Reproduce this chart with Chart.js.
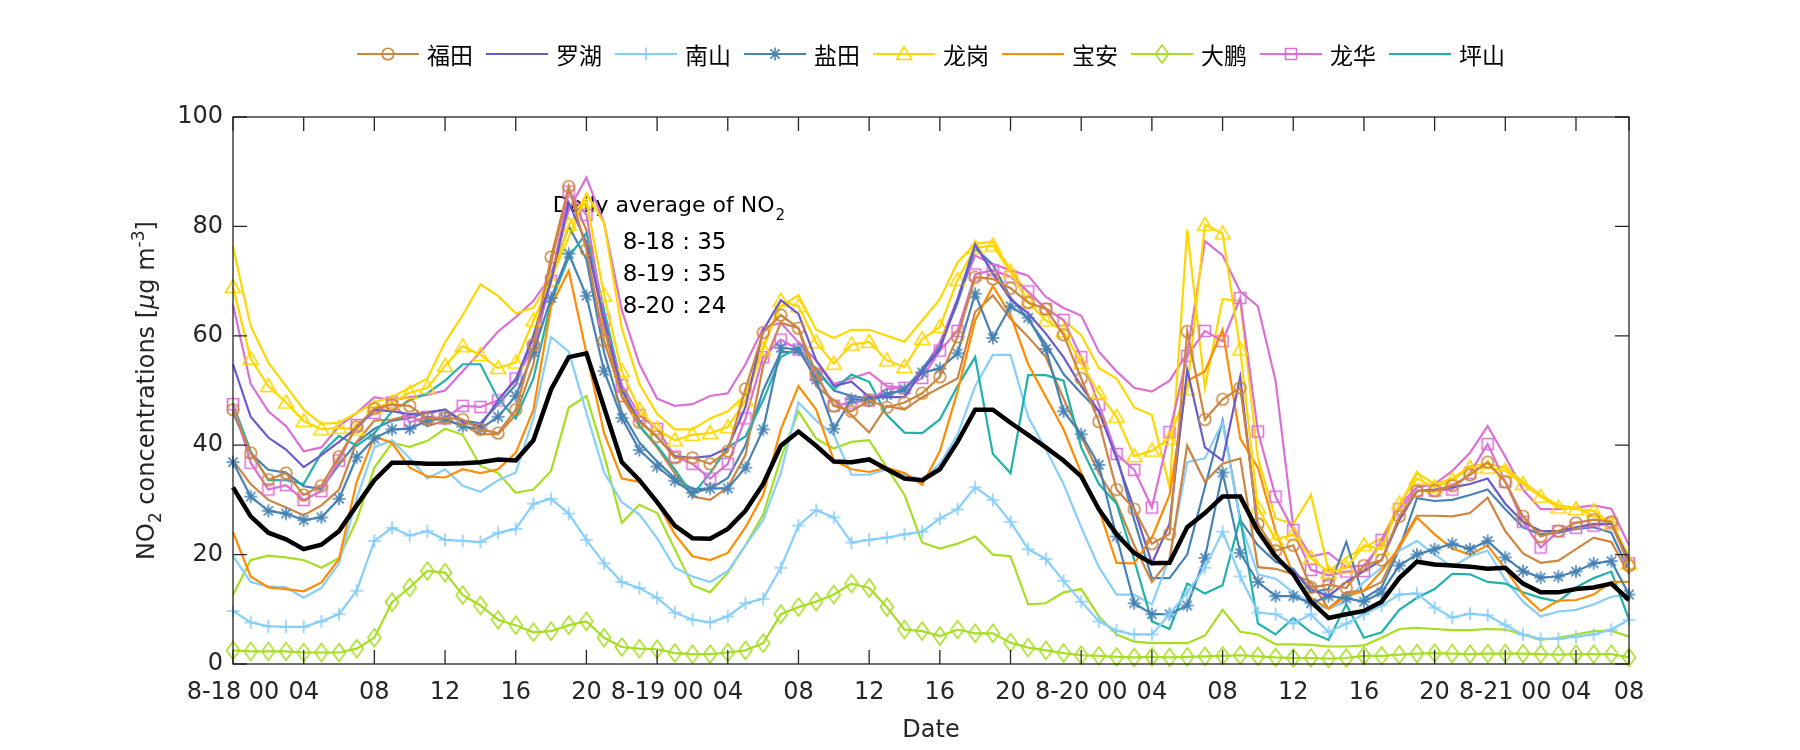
<!DOCTYPE html>
<html>
<head>
<meta charset="utf-8">
<script src="https://cdn.jsdelivr.net/npm/chart.js@4.4.1/dist/chart.umd.min.js"></script>
<style>
  html, body { margin: 0; padding: 0; background: #fff; }
</style>
</head>
<body>
<canvas id="no2Chart" width="1800" height="750"></canvas>
<script>
// hourly index from 8-18 00 (0) to 8-21 07 (79)
const hours = [
  0, 1, 2, 3, 4, 5, 6, 7, 8, 9, 10, 11, 12, 13, 14, 15, 16, 17, 18, 19,
  20, 21, 22, 23, 24, 25, 26, 27, 28, 29, 30, 31, 32, 33, 34, 35, 36, 37, 38, 39,
  40, 41, 42, 43, 44, 45, 46, 47, 48, 49, 50, 51, 52, 53, 54, 55, 56, 57, 58, 59,
  60, 61, 62, 63, 64, 65, 66, 67, 68, 69, 70, 71, 72, 73, 74, 75, 76, 77, 78, 79
];
const tickHours = [0, 4, 8, 12, 16, 20, 24, 28, 32, 36, 40, 44, 48, 52, 56, 60, 64, 68, 72, 76, 79];
const tickText = ['8-18 00', '04', '08', '12', '16', '20', '8-19 00', '04', '08', '12', '16', '20',
                  '8-20 00', '04', '08', '12', '16', '20', '8-21 00', '04', '08'];
const yTicks = [0, 20, 40, 60, 80, 100];

const stationNames = ['福田', '罗湖', '南山', '盐田', '龙岗', '宝安', '大鹏', '龙华', '坪山'];
const stationColors = ['#CD853F', '#6A5ACD', '#87CEFA', '#4682B4', '#FFD700', '#FF8C00', '#A6DE22', '#DA70D6', '#20B2AA'];
const stationMarkers = ['o', null, '+', '*', '^', null, 'd', 's', null];

const dailyDays = ['8-18', '8-19', '8-20'];
const dailyMeans = [35, 35, 24];

// stations with markers / first site of each district
const futian = [46.5, 38.6, 33.7, 34.9, 30.9, 32.6, 37.9, 43.4, 46.7, 47.4, 47.2, 44.9, 45, 44.7, 42.9, 42.2,
  46.5, 58.4, 74.4, 87.3, 75.7, 59.1, 49, 44.2, 41.6, 37.7, 37.7, 36.6, 38.9, 50.3, 60.6, 63.8,
  61.4, 53.1, 47.2, 46.2, 48.2, 46.9, 47.8, 49.5, 52.5, 59.8, 70.7, 70.4, 68.7, 66.1, 64.9, 60.2,
  52.2, 44.3, 31.9, 28.3, 22, 23.8, 60.8, 44.7, 48.4, 50.5, 25.6, 20.7, 21.7, 14, 14.5, 13.9,
  18, 19, 27, 31.6, 31.7, 32.6, 34.6, 36.9, 33.3, 27, 23.3, 24.3, 25.8, 26.4, 26, 18];
const luohu = [54.8, 45.2, 41.4, 39.2, 36, 38.2, 40.6, 43.2, 46.5, 46.2, 45.7, 45.9, 46.5, 44.2, 43.5, 48.2,
  52, 60, 70, 84.3, 77, 63, 50, 44.5, 41.5, 38, 37.7, 38, 39.5, 47, 61, 66.5,
  64, 55.5, 50.8, 51.6, 48.8, 48.8, 48.8, 53.5, 57.5, 66.7, 76.7, 71.4, 66.7, 64.1, 60.4, 56.1,
  50.8, 46.2, 37.6, 28.3, 18.4, 25.6, 53.8, 39.6, 37.2, 52.5, 24.3, 19.7, 17, 13.7, 12.4, 15,
  17, 19, 26.3, 31.6, 31.9, 32.3, 32.9, 33.9, 29.3, 26, 24.3, 24.3, 25, 25.6, 25.6, 19];
const nanshan = [9.7, 7.6, 6.9, 6.8, 6.8, 7.8, 9.1, 13.4, 22.5, 24.9, 23.5, 24.3, 22.7, 22.5, 22.3, 24,
  24.7, 29.3, 30.2, 27.5, 22.7, 18.4, 15, 13.9, 12.1, 9.4, 8.1, 7.6, 8.7, 11.1, 11.9, 17.6,
  25.3, 28.1, 26.8, 22.2, 22.7, 23.1, 23.7, 24.2, 26.6, 28.3, 32.3, 30, 26, 21, 19.2, 15.2,
  11.4, 7.8, 6.1, 5.4, 5.4, 9.1, 13.1, 17.6, 24.2, 16, 9.4, 9.1, 7.4, 9.1, 5.8, 7.4,
  9.1, 10.7, 12.7, 12.9, 10.3, 8.5, 9.2, 8.9, 7.1, 5.4, 4.6, 4.6, 5, 5.4, 6.3, 8.1];
const yantian = [36.9, 30.6, 28, 27.5, 26.3, 26.8, 30.2, 37.8, 41.2, 42.9, 43, 44.5, 44.9, 43.4, 43, 45.2,
  49, 57, 66.9, 75, 67.3, 53.6, 45, 39.1, 36.1, 33.5, 31.3, 32.1, 32.1, 35.9, 42.9, 57.8,
  57.5, 52, 43, 48.4, 48.2, 49.2, 50.2, 53.3, 54, 56.8, 67.7, 59.6, 65.4, 63.3, 57.6, 46.2,
  42, 36.4, 23.3, 11.1, 9.1, 9.1, 10.7, 19.4, 35, 20.3, 15, 12.4, 12.4, 11.1, 12.4, 12,
  11.4, 13.1, 18, 20, 21, 22, 21, 22.5, 19.5, 17, 15.8, 16, 16.9, 18.4, 18.8, 12.7];
const longgang = [68.9, 55.8, 50.8, 47.8, 44.4, 42.9, 43.2, 42.9, 46.9, 47.8, 49.6, 50.5, 54.5, 58.1, 56.5, 54.1,
  55.1, 62.8, 70, 80.3, 84.6, 67.4, 53.5, 46.5, 42.9, 40.9, 41.9, 42.2, 43.3, 48.2, 57.5, 66.4,
  65.4, 58.8, 54.9, 58.4, 58.9, 55.5, 54.3, 59.4, 61.6, 70.2, 76.1, 76.5, 71.7, 66.1, 62.8, 60.8,
  55, 49.5, 45.2, 38, 39, 41.2, 50.2, 80.3, 78.7, 57.5, 28.6, 22.7, 23.7, 19.4, 16.7, 17.6,
  21.7, 21, 29.3, 33.9, 32.3, 33.6, 35.9, 35.9, 35.3, 32.9, 30.6, 28.6, 28.3, 28, 25.6, 18.4];
const baoan = [24.1, 16, 14, 13.7, 13.3, 14.9, 19.2, 33.3, 41.6, 40.4, 35.9, 34.3, 34.1, 35.6, 34.9, 35.6,
  38.6, 46.5, 65.4, 71.9, 56.8, 42.2, 33.9, 33.3, 29.6, 23.7, 19.7, 19, 20.3, 25, 30.9, 42.9,
  50.8, 46.5, 37.2, 35.6, 35.1, 35.9, 34.9, 32.8, 38.9, 49.8, 62.8, 69.1, 63.8, 54.8, 48.8, 42.9,
  34.9, 28.3, 18.5, 18.4, 23.1, 30.9, 51.8, 53.5, 61.1, 41.2, 35.9, 24.3, 16.4, 12.1, 10.1, 12.4,
  13.4, 17, 21.3, 26.8, 23.7, 21.1, 20, 21.7, 17.4, 12.7, 9.7, 11.6, 11.7, 12.7, 15, 15];
const dapeng = [2.5, 2.3, 2.3, 2.3, 2.1, 2.1, 2.1, 2.8, 4.8, 11.3, 14, 17, 16.7, 12.6, 10.7, 8.1,
  7.1, 5.8, 6, 7.1, 7.8, 4.8, 3.1, 2.8, 2.7, 2, 1.8, 1.8, 2.1, 2.5, 3.8, 9.1,
  10.4, 11.4, 12.7, 14.7, 13.9, 10.4, 6.3, 6, 5.1, 6.3, 5.6, 5.6, 3.9, 3, 2.5, 2,
  1.6, 1.5, 1.3, 1.2, 1.3, 1.2, 1.3, 1.4, 1.5, 1.6, 1.4, 1.2, 1.1, 1.1, 1, 1.1,
  1.5, 1.5, 1.7, 1.9, 2, 1.9, 1.8, 1.9, 1.9, 1.9, 1.8, 1.7, 1.8, 1.8, 1.8, 1.2];
const longhua = [47.5, 36.8, 31.9, 32.7, 30, 31.6, 37.2, 43.7, 45.9, 47.8, 44.2, 45.2, 44.9, 47.2, 47, 48.2,
  52.2, 57.8, 70, 86.4, 82.1, 62.9, 51, 45.5, 43, 37.9, 36.6, 33.9, 36.6, 44.9, 56.1, 59.3,
  57.5, 52.8, 47.2, 47.8, 48.2, 50.3, 50.5, 52.3, 57.3, 60.9, 71.2, 72, 70.8, 68.1, 64.9, 62.9,
  56.1, 47.4, 38.4, 35.5, 28.6, 42.4, 56.3, 60.9, 59, 66.9, 42.5, 30.6, 24.5, 17.2, 16.2, 16.9,
  17, 22.7, 28.3, 31.7, 31.7, 31.9, 34.9, 40.2, 33.3, 26, 21.3, 24.3, 24.9, 25.3, 25.7, 18.4];
const pingshan = [47.5, 38.9, 33.6, 33.6, 32.9, 38.6, 41.7, 39.9, 42.2, 46.2, 48.2, 49.5, 51.8, 54.8, 54.8, 48.5,
  44.9, 52.2, 66.1, 74.4, 78.8, 64.7, 50.8, 43.5, 39.9, 35.6, 30.9, 34.9, 39.6, 41.6, 48.2, 56.1,
  57.8, 53.5, 50.2, 52.9, 51.6, 45.5, 42.3, 42.2, 44.7, 50.8, 56.1, 38.4, 34.9, 52.8, 52.8, 51.8,
  39.6, 32.9, 29.3, 19, 7.8, 6.4, 14.7, 12.9, 14.4, 26.6, 7.4, 5.4, 8.4, 5.8, 4.4, 10.9,
  4.8, 5.8, 9.9, 12.1, 13.7, 16.5, 16.4, 15, 14.7, 13.1, 12.1, 11.4, 14, 15.7, 16.9, 8.1];

// second sites (same district colours, no markers)
const futian2 = [37.2, 32.9, 30, 28.6, 27.2, 29, 31.9, 40.6, 44.5, 44.7, 45.5, 43.5, 44.5, 43.7, 42, 42,
  45.5, 54.8, 73.4, 86.9, 79.3, 61.4, 48.8, 43.5, 39.6, 34.9, 30.6, 30, 32.3, 38.2, 54.5, 62.4,
  61.4, 50.8, 48.2, 45.5, 42.3, 47.2, 46.5, 48.8, 50.5, 52.2, 64.4, 67.4, 63.1, 59.8, 56.1, 48.5,
  41.6, 34.9, 29.6, 21.7, 15, 19, 39.9, 33.3, 36.6, 37.6, 17.7, 17.4, 16.4, 15, 10.1, 13.1,
  13.4, 15, 21.7, 27.1, 27.1, 27, 27.6, 30.4, 24.3, 20.2, 18.5, 18.9, 21, 23.1, 22.3, 16.4];
const nanshan2 = [19.7, 15, 14.2, 14, 12.1, 13.9, 18.4, 30.3, 39.6, 40.9, 37.6, 33.9, 35.6, 32.6, 31.5, 33.6,
  35, 44.9, 59.8, 57.1, 45.9, 35, 29.6, 27.3, 23, 17.6, 16, 15, 17, 21.7, 26.3, 34.9,
  47.8, 44.5, 41.9, 34.6, 34.6, 35.6, 34.6, 33.7, 36.6, 41.9, 50.8, 56.5, 56.5, 45.2, 39.2, 32.9,
  25, 17.7, 12.7, 12.7, 10.9, 19.4, 36.9, 37.6, 44.2, 26, 16.4, 15.6, 13.1, 11.1, 10.1, 11.4,
  15, 17.6, 20.7, 22.5, 20, 17.8, 19.7, 20.7, 15.4, 11.4, 8.7, 9.6, 9.9, 10.9, 12.3, 12.7];
const yantian2 = [46, 38.5, 35.5, 35, 32.5, 32, 36.5, 40.5, 43, 44.5, 45, 46, 46.5, 44.5, 44, 47.5,
  51, 60, 71, 80, 74, 57, 46, 40.5, 37, 34, 32, 32, 34, 40, 50, 57,
  57, 54, 50, 49, 48.5, 49.5, 50, 54, 58, 66, 76, 73, 67, 63, 58.5, 53,
  49.5, 46.2, 38.2, 26.3, 15.7, 15.7, 20, 32.3, 44.5, 26.3, 21.7, 18.7, 17.4, 13.1, 13.7, 22.3,
  12, 14, 21, 30.3, 29.8, 30, 30.9, 31.9, 28.3, 25, 23.7, 24, 24.7, 25, 24, 17];
const longgang2 = [76.3, 61.8, 55.1, 50.8, 46.5, 43.9, 44.1, 45.9, 47.8, 48.8, 50.5, 52.2, 58.8, 63.8, 69.4, 67.3,
  64.1, 65.1, 70.4, 78, 86, 80.6, 61.4, 51.2, 45.7, 42.9, 42.9, 44.9, 46.2, 49.2, 58.1, 65.4,
  67.4, 61.1, 59.6, 61.1, 61.1, 60, 58.9, 62.8, 66.7, 73.4, 76.8, 77.2, 72.1, 67.7, 65.1, 62.8,
  60.1, 54.1, 52.2, 46.9, 45.5, 32.3, 79.4, 50.5, 66.7, 66.4, 37.6, 26.6, 25.6, 30.9, 17, 19.4,
  21.3, 23, 29, 34.9, 32.9, 33.9, 36.2, 36.6, 35.9, 33.3, 30.9, 29, 28.6, 27, 26, 19.7];
const dapeng2 = [12.6, 19, 19.8, 19.5, 19, 17.6, 19.4, 26.3, 35.9, 40.4, 39.7, 40.8, 43, 41.9, 36.2, 34.9,
  31.3, 31.9, 35.3, 46.9, 49, 38.2, 25.8, 29.1, 27.6, 21, 14.4, 13.1, 16.7, 21.7, 27.3, 37.6,
  46.2, 41.2, 39.4, 40.6, 40.9, 35.9, 30.9, 22.2, 21.1, 22, 23.3, 20, 19.7, 10.9, 11.1, 13.1,
  13.7, 8.7, 5.4, 4.1, 3.8, 3.8, 3.8, 5.2, 9.9, 5.9, 5.4, 3.6, 3.6, 3.5, 3.2, 3.2,
  3.4, 4.8, 6.4, 6.6, 6.4, 6.2, 6.2, 6.4, 6.3, 5.4, 4.4, 4.8, 5.4, 6, 6.1, 5];
const longhua2 = [65.7, 51.2, 46.2, 43.5, 38.9, 39.6, 43.5, 45.9, 48.8, 48.2, 48.8, 49.2, 50, 53.5, 57.1, 60.8,
  63.4, 66.4, 71, 83, 88.9, 80.6, 64.7, 54.8, 48.5, 47.2, 47.5, 49, 49.5, 54.8, 61.4, 62.4,
  58.8, 55.5, 51.2, 52.2, 53.3, 50.8, 50.5, 53.5, 58.8, 66.7, 74.7, 73.1, 72, 71, 67.1, 65.1,
  63.7, 57.1, 53.5, 50.5, 49.8, 51.8, 56.8, 77.3, 74.7, 68.1, 65.4, 51.8, 25, 19.7, 20.3, 17.7,
  18, 22, 29, 32.3, 32.9, 35.3, 38.6, 43.5, 37.9, 31.9, 28.3, 28.3, 28.6, 29, 28.4, 21.7];

// city-wide average (thick black)
const cityAvg = [32.3, 27, 24, 22.8, 21, 21.8, 24.3, 29, 33.6, 36.8, 36.8, 36.6, 36.6, 36.7, 36.9, 37.4,
  37.2, 40.9, 50.2, 56.1, 56.8, 46.9, 36.9, 33.6, 29.6, 25.3, 23, 22.9, 24.7, 28, 32.9, 39.9,
  42.5, 39.9, 37, 36.9, 37.4, 35.6, 33.9, 33.6, 35.6, 40.6, 46.5, 46.5, 44.1, 41.9, 39.6, 37.2,
  34.3, 28.3, 23.7, 20.3, 18.4, 18.5, 25, 27.6, 30.6, 30.6, 24.3, 19.7, 16.4, 11.4, 8.4, 9.1,
  9.7, 11.4, 15.7, 18.7, 18.2, 18, 17.8, 17.4, 17.6, 14.7, 13.1, 13.1, 13.7, 14, 14.7, 11.7];

const mainSeries = [futian, luohu, nanshan, yantian, longgang, baoan, dapeng, longhua, pingshan];
const extraSeries = [[futian2, 0], [nanshan2, 2], [yantian2, 3], [longgang2, 4], [dapeng2, 6], [longhua2, 7]];

const FONT = '"DejaVu Sans", "Noto Sans", sans-serif';
const AXIS_COLOR = '#262626';

// hollow MATLAB-like markers drawn once into small canvases
function makeMarker(type, color) {
  const c = document.createElement('canvas');
  c.width = 22; c.height = 22;
  const g = c.getContext('2d');
  const m = 11;
  g.strokeStyle = color;
  g.lineWidth = 1.6;
  g.beginPath();
  if (type === 'o') {
    g.arc(m, m, 5.8, 0, Math.PI * 2);
  } else if (type === '+') {
    g.moveTo(m - 6.5, m); g.lineTo(m + 6.5, m);
    g.moveTo(m, m - 6.5); g.lineTo(m, m + 6.5);
  } else if (type === '*') {
    g.moveTo(m - 6.5, m); g.lineTo(m + 6.5, m);
    g.moveTo(m, m - 6.5); g.lineTo(m, m + 6.5);
    g.moveTo(m - 4.6, m - 4.6); g.lineTo(m + 4.6, m + 4.6);
    g.moveTo(m - 4.6, m + 4.6); g.lineTo(m + 4.6, m - 4.6);
  } else if (type === '^') {
    g.moveTo(m, m - 7.5); g.lineTo(m + 7.5, m + 5.5); g.lineTo(m - 7.5, m + 5.5); g.closePath();
  } else if (type === 'd') {
    g.moveTo(m, m - 9); g.lineTo(m + 6.5, m); g.lineTo(m, m + 9); g.lineTo(m - 6.5, m); g.closePath();
  } else if (type === 's') {
    g.rect(m - 5.5, m - 5.5, 11, 11);
  }
  g.stroke();
  return c;
}
const markerImgs = stationMarkers.map((t, k) => t ? makeMarker(t, stationColors[k]) : null);

const datasets = [];
datasets.push({
  label: 'average', data: cityAvg, borderColor: '#000', borderWidth: 4.5,
  pointRadius: 0, order: 0, clip: false
});
mainSeries.forEach((vals, k) => {
  datasets.push({
    label: stationNames[k], data: vals, borderColor: stationColors[k], borderWidth: 2.2,
    pointStyle: markerImgs[k] || 'circle', pointRadius: markerImgs[k] ? 5 : 0,
    order: 1 + k, clip: false
  });
});
extraSeries.forEach(([vals, k], j) => {
  datasets.push({
    label: stationNames[k] + ' 2', data: vals, borderColor: stationColors[k], borderWidth: 2.2,
    pointRadius: 0, order: 20 + j, clip: false
  });
});

const matlabAxes = {
  id: 'matlabAxes',
  beforeDatasetsDraw(chart) {
    // daily mean note sits under the lines
    const { ctx, scales: { x, y } } = chart;
    ctx.save();
    ctx.fillStyle = '#000';
    ctx.textAlign = 'left';
    ctx.textBaseline = 'middle';
    ctx.font = '22px ' + FONT;
    const tx = x.getPixelForValue(18.1), ty = y.getPixelForValue(83.6);
    ctx.fillText('Daily average of NO', tx, ty);
    const w = ctx.measureText('Daily average of NO').width;
    ctx.font = '15px ' + FONT;
    ctx.fillText('2', tx + w + 1, ty + 9);
    ctx.font = '23px ' + FONT;
    dailyDays.forEach((d, k) => {
      ctx.fillText(d + ' : ' + dailyMeans[k], x.getPixelForValue(22.05), y.getPixelForValue(76.9 - 5.8 * k));
    });
    ctx.restore();
  },
  afterDraw(chart) {
    const { ctx, chartArea: { left, right, top, bottom }, scales: { x, y } } = chart;
    ctx.save();
    // box + inward ticks
    ctx.strokeStyle = AXIS_COLOR;
    ctx.lineWidth = 1.3;
    ctx.strokeRect(left, top, right - left, bottom - top);
    ctx.beginPath();
    tickHours.forEach(h => {
      const px = x.getPixelForValue(h);
      ctx.moveTo(px, bottom); ctx.lineTo(px, bottom - 14);
      ctx.moveTo(px, top); ctx.lineTo(px, top + 14);
    });
    yTicks.forEach(v => {
      const py = y.getPixelForValue(v);
      ctx.moveTo(left, py); ctx.lineTo(left + 14, py);
      ctx.moveTo(right, py); ctx.lineTo(right - 14, py);
    });
    ctx.stroke();

    // axis titles
    ctx.fillStyle = AXIS_COLOR;
    ctx.textBaseline = 'middle';
    ctx.textAlign = 'center';
    ctx.font = '24px ' + FONT;
    ctx.fillText('Date', (left + right) / 2, 731);

    const parts = [
      { t: 'NO', f: '24px ' + FONT, dy: 0 },
      { t: '2', f: '17px ' + FONT, dy: 7 },
      { t: ' concentrations [', f: '24px ' + FONT, dy: 0 },
      { t: 'μ', f: 'italic 24px ' + FONT, dy: 0 },
      { t: 'g m', f: '24px ' + FONT, dy: 0 },
      { t: '-3', f: '17px ' + FONT, dy: -10 },
      { t: ']', f: '24px ' + FONT, dy: 0 }
    ];
    let total = 0;
    parts.forEach(p => { ctx.font = p.f; p.w = ctx.measureText(p.t).width; total += p.w; });
    ctx.translate(154, (top + bottom) / 2);
    ctx.rotate(-Math.PI / 2);
    ctx.textAlign = 'left';
    ctx.textBaseline = 'alphabetic';
    let cx = -total / 2;
    parts.forEach(p => { ctx.font = p.f; ctx.fillText(p.t, cx, p.dy); cx += p.w; });
    ctx.setTransform(1, 0, 0, 1, 0, 0);

    // legend row
    ctx.font = '23px "Noto Sans CJK SC", ' + FONT;
    ctx.textBaseline = 'middle';
    const lineLen = 62, textGap = 8, itemGap = 13, ly = 54;
    const widths = stationNames.map(n => ctx.measureText(n).width);
    const full = widths.reduce((a, w) => a + lineLen + textGap + w, 0) + itemGap * (stationNames.length - 1);
    let lx = (left + right) / 2 - full / 2;
    stationNames.forEach((n, k) => {
      ctx.strokeStyle = stationColors[k];
      ctx.lineWidth = 2.2;
      ctx.beginPath();
      ctx.moveTo(lx, ly); ctx.lineTo(lx + lineLen, ly);
      ctx.stroke();
      if (markerImgs[k]) ctx.drawImage(markerImgs[k], lx + lineLen / 2 - 11, ly - 11);
      ctx.fillStyle = '#000';
      ctx.fillText(n, lx + lineLen + textGap, ly + 1);
      lx += lineLen + textGap + widths[k] + itemGap;
    });
    ctx.restore();
  }
};

Chart.defaults.font.family = FONT;
Chart.defaults.font.size = 24;
Chart.defaults.color = AXIS_COLOR;

new Chart(document.getElementById('no2Chart').getContext('2d'), {
  type: 'line',
  data: { labels: hours, datasets: datasets },
  options: {
    responsive: false,
    animation: false,
    events: [],
    layout: { padding: { top: 117, right: 171, left: 0, bottom: 0 } },
    elements: { line: { tension: 0, fill: false } },
    plugins: { legend: { display: false }, tooltip: { enabled: false } },
    scales: {
      x: {
        type: 'linear', min: 0, max: 79,
        afterBuildTicks: s => { s.ticks = tickHours.map(v => ({ value: v })); },
        afterFit: s => { s.height = 86; },
        ticks: {
          autoSkip: false, maxRotation: 0, padding: 14,
          callback: v => tickText[tickHours.indexOf(v)]
        },
        grid: { display: false, drawTicks: false },
        border: { display: false }
      },
      y: {
        min: 0, max: 100,
        afterFit: s => { s.width = 233; },
        ticks: { stepSize: 20, padding: 10 },
        grid: { display: false, drawTicks: false },
        border: { display: false }
      }
    }
  },
  plugins: [matlabAxes]
});
</script>
</body>
</html>
